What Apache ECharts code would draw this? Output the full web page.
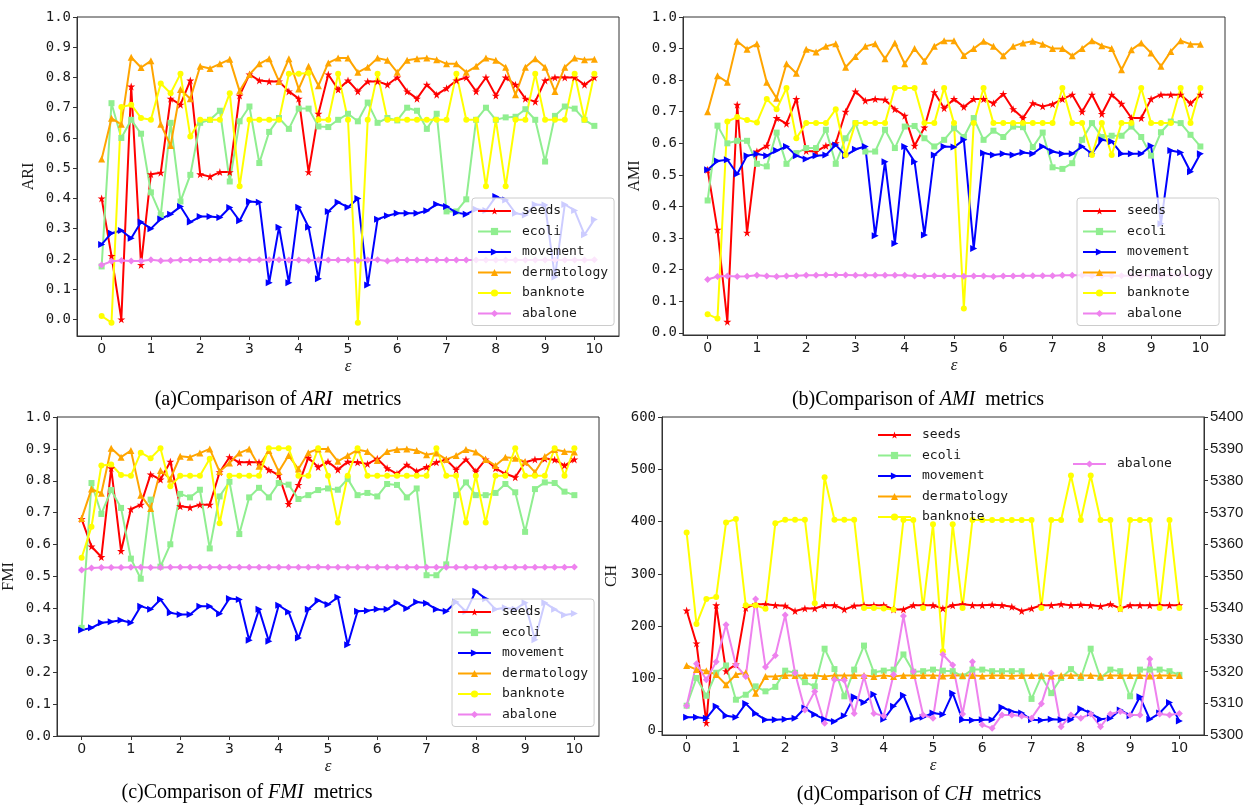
<!DOCTYPE html>
<html>
<head>
<meta charset="utf-8">
<script src="https://cdn.jsdelivr.net/npm/echarts@6/dist/echarts.min.js"></script>
<style>
html, body { margin: 0; padding: 0; background: #fff; }
#chart { width: 1245px; height: 806px; }
</style>
</head>
<body>
<div id="chart"></div>
<script>
// x values (epsilon) shared by every panel
const epsilon = [0, 0.2, 0.4, 0.6, 0.8, 1, 1.2, 1.4, 1.6, 1.8,
  2, 2.2, 2.4, 2.6, 2.8, 3, 3.2, 3.4, 3.6, 3.8,
  4, 4.2, 4.4, 4.6, 4.8, 5, 5.2, 5.4, 5.6, 5.8,
  6, 6.2, 6.4, 6.6, 6.8, 7, 7.2, 7.4, 7.6, 7.8,
  8, 8.2, 8.4, 8.6, 8.8, 9, 9.2, 9.4, 9.6, 9.8, 10];

const datasetNames = ['seeds', 'ecoli', 'movement', 'dermatology', 'banknote', 'abalone'];

// tick labels
const xTicks = [0, 1, 2, 3, 4, 5, 6, 7, 8, 9, 10];
const unitTicks = [0, 0.1, 0.2, 0.3, 0.4, 0.5, 0.6, 0.7, 0.8, 0.9, 1.0];
const chTicks = [0, 100, 200, 300, 400, 500, 600];

// (a) ARI
const ariSeeds = [0.40, 0.21, 0.00, 0.77, 0.18, 0.48, 0.485, 0.73, 0.71, 0.79,
  0.48, 0.472, 0.487, 0.487, 0.74, 0.81, 0.79, 0.787, 0.787, 0.754,
  0.73, 0.487, 0.68, 0.81, 0.76, 0.79, 0.754, 0.787, 0.787, 0.776,
  0.80, 0.754, 0.73, 0.776, 0.743, 0.764, 0.79, 0.80, 0.754, 0.80,
  0.74, 0.80, 0.776, 0.73, 0.72, 0.79, 0.80, 0.80, 0.80, 0.776, 0.80];
const ariEcoli = [0.175, 0.715, 0.60, 0.66, 0.614, 0.42, 0.345, 0.65, 0.39, 0.478,
  0.65, 0.66, 0.69, 0.456, 0.655, 0.704, 0.517, 0.62, 0.666, 0.63,
  0.697, 0.697, 0.638, 0.636, 0.66, 0.68, 0.655, 0.717, 0.65, 0.666,
  0.658, 0.70, 0.69, 0.63, 0.68, 0.357, 0.357, 0.397, 0.66, 0.70,
  0.66, 0.668, 0.67, 0.695, 0.66, 0.522, 0.673, 0.704, 0.697, 0.66, 0.64];
const ariMovement = [0.248, 0.285, 0.294, 0.268, 0.322, 0.30, 0.332, 0.348, 0.373, 0.322,
  0.34, 0.34, 0.337, 0.37, 0.326, 0.39, 0.387, 0.121, 0.305, 0.121,
  0.371, 0.305, 0.134, 0.357, 0.387, 0.371, 0.40, 0.114, 0.331, 0.343,
  0.351, 0.351, 0.351, 0.359, 0.381, 0.373, 0.353, 0.348, 0.364, 0.36,
  0.406, 0.395, 0.351, 0.345, 0.38, 0.378, 0.14, 0.38, 0.36, 0.28, 0.33];
const ariDermatology = [0.53, 0.665, 0.645, 0.867, 0.833, 0.855, 0.645, 0.575, 0.76, 0.73,
  0.837, 0.83, 0.845, 0.86, 0.755, 0.81, 0.845, 0.862, 0.787, 0.862,
  0.762, 0.837, 0.773, 0.848, 0.864, 0.864, 0.817, 0.834, 0.864, 0.857,
  0.817, 0.857, 0.862, 0.864, 0.859, 0.845, 0.845, 0.817, 0.837, 0.864,
  0.857, 0.834, 0.743, 0.834, 0.862, 0.834, 0.754, 0.834, 0.864, 0.859, 0.86];
const ariBanknote = [0.011, -0.011, 0.702, 0.71, 0.666, 0.66, 0.78, 0.748, 0.812, 0.605,
  0.66, 0.66, 0.66, 0.748, 0.44, 0.66, 0.66, 0.66, 0.66, 0.812,
  0.812, 0.815, 0.66, 0.66, 0.812, 0.66, -0.011, 0.66, 0.812, 0.66,
  0.66, 0.66, 0.66, 0.66, 0.66, 0.66, 0.812, 0.66, 0.66, 0.44,
  0.66, 0.44, 0.66, 0.66, 0.812, 0.66, 0.66, 0.66, 0.812, 0.66, 0.812];
const ariAbalone = [0.18, 0.192, 0.195, 0.193, 0.193, 0.197, 0.194, 0.195, 0.196, 0.196,
  0.196, 0.196, 0.197, 0.197, 0.197, 0.196, 0.197, 0.197, 0.197, 0.196,
  0.196, 0.195, 0.197, 0.196, 0.196, 0.196, 0.195, 0.196, 0.197, 0.193,
  0.196, 0.196, 0.196, 0.196, 0.196, 0.196, 0.196, 0.196, 0.196, 0.196,
  0.196, 0.196, 0.196, 0.196, 0.196, 0.196, 0.196, 0.196, 0.196, 0.196, 0.197];

// (b) AMI
const amiSeeds = [0.516, 0.326, 0.035, 0.722, 0.317, 0.574, 0.592, 0.68, 0.662, 0.74,
  0.576, 0.574, 0.592, 0.60, 0.70, 0.764, 0.735, 0.74, 0.738, 0.708,
  0.687, 0.592, 0.65, 0.762, 0.711, 0.74, 0.715, 0.74, 0.74, 0.727,
  0.756, 0.708, 0.68, 0.727, 0.717, 0.724, 0.74, 0.754, 0.70, 0.754,
  0.693, 0.754, 0.725, 0.68, 0.68, 0.74, 0.754, 0.754, 0.754, 0.727, 0.754];
const amiEcoli = [0.419, 0.656, 0.60, 0.608, 0.608, 0.535, 0.527, 0.634, 0.535, 0.569,
  0.585, 0.585, 0.643, 0.535, 0.616, 0.664, 0.574, 0.574, 0.643, 0.585,
  0.653, 0.655, 0.616, 0.59, 0.611, 0.648, 0.62, 0.68, 0.611, 0.64,
  0.62, 0.653, 0.651, 0.588, 0.634, 0.524, 0.519, 0.537, 0.611, 0.664,
  0.62, 0.624, 0.624, 0.653, 0.62, 0.561, 0.635, 0.669, 0.664, 0.627, 0.59];
const amiMovement = [0.516, 0.544, 0.548, 0.503, 0.561, 0.566, 0.561, 0.577, 0.59, 0.561,
  0.55, 0.561, 0.563, 0.595, 0.561, 0.581, 0.59, 0.307, 0.542, 0.283,
  0.59, 0.542, 0.31, 0.563, 0.59, 0.588, 0.611, 0.267, 0.569, 0.563,
  0.567, 0.563, 0.571, 0.567, 0.59, 0.574, 0.567, 0.567, 0.59, 0.567,
  0.611, 0.606, 0.567, 0.567, 0.567, 0.592, 0.345, 0.577, 0.571, 0.51, 0.567];
const amiDermatology = [0.70, 0.814, 0.793, 0.923, 0.898, 0.915, 0.793, 0.743, 0.852, 0.822,
  0.898, 0.889, 0.907, 0.915, 0.841, 0.875, 0.907, 0.915, 0.868, 0.918,
  0.852, 0.90, 0.86, 0.907, 0.925, 0.925, 0.878, 0.90, 0.923, 0.907,
  0.877, 0.907, 0.918, 0.923, 0.914, 0.90, 0.90, 0.877, 0.90, 0.925,
  0.909, 0.90, 0.833, 0.896, 0.918, 0.886, 0.844, 0.891, 0.925, 0.914, 0.914];
const amiBanknote = [0.059, 0.045, 0.669, 0.683, 0.674, 0.666, 0.74, 0.708, 0.775, 0.616,
  0.664, 0.664, 0.664, 0.708, 0.563, 0.664, 0.664, 0.664, 0.664, 0.775,
  0.775, 0.775, 0.664, 0.664, 0.775, 0.664, 0.077, 0.664, 0.775, 0.664,
  0.664, 0.664, 0.664, 0.664, 0.664, 0.664, 0.775, 0.664, 0.664, 0.563,
  0.664, 0.563, 0.664, 0.664, 0.775, 0.664, 0.664, 0.664, 0.775, 0.664, 0.775];
const amiAbalone = [0.169, 0.178, 0.18, 0.178, 0.179, 0.182, 0.18, 0.178, 0.18, 0.181,
  0.182, 0.182, 0.183, 0.183, 0.183, 0.182, 0.182, 0.182, 0.182, 0.182,
  0.182, 0.18, 0.18, 0.181, 0.18, 0.18, 0.179, 0.18, 0.18, 0.178,
  0.18, 0.18, 0.181, 0.181, 0.181, 0.181, 0.182, 0.182, 0.182, 0.181,
  0.181, 0.181, 0.181, 0.181, 0.181, 0.181, 0.181, 0.182, 0.182, 0.182, 0.182];

// (c) FMI
const fmiSeeds = [0.68, 0.594, 0.561, 0.839, 0.58, 0.711, 0.725, 0.82, 0.804, 0.86,
  0.72, 0.716, 0.725, 0.725, 0.827, 0.874, 0.858, 0.858, 0.858, 0.834,
  0.818, 0.727, 0.787, 0.872, 0.843, 0.86, 0.835, 0.86, 0.858, 0.853,
  0.869, 0.839, 0.822, 0.85, 0.83, 0.843, 0.858, 0.866, 0.835, 0.867,
  0.829, 0.867, 0.839, 0.822, 0.811, 0.858, 0.867, 0.869, 0.866, 0.848, 0.867];
const fmiEcoli = [0.339, 0.793, 0.696, 0.771, 0.715, 0.556, 0.493, 0.741, 0.531, 0.601,
  0.759, 0.748, 0.772, 0.588, 0.751, 0.797, 0.633, 0.748, 0.778, 0.748,
  0.793, 0.788, 0.743, 0.755, 0.771, 0.776, 0.772, 0.806, 0.755, 0.762,
  0.751, 0.79, 0.787, 0.748, 0.776, 0.504, 0.504, 0.538, 0.755, 0.795,
  0.755, 0.755, 0.762, 0.79, 0.764, 0.64, 0.774, 0.795, 0.793, 0.766, 0.755];
const fmiMovement = [0.332, 0.339, 0.355, 0.358, 0.363, 0.355, 0.407, 0.397, 0.428, 0.386,
  0.381, 0.381, 0.407, 0.407, 0.383, 0.431, 0.428, 0.30, 0.397, 0.297,
  0.41, 0.389, 0.307, 0.397, 0.425, 0.412, 0.435, 0.286, 0.391, 0.393,
  0.397, 0.397, 0.418, 0.40, 0.42, 0.416, 0.397, 0.391, 0.42, 0.39,
  0.454, 0.43, 0.397, 0.402, 0.397, 0.418, 0.302, 0.418, 0.397, 0.379, 0.384];
const fmiDermatology = [0.682, 0.774, 0.761, 0.902, 0.874, 0.895, 0.755, 0.713, 0.832, 0.806,
  0.877, 0.874, 0.887, 0.90, 0.829, 0.856, 0.887, 0.90, 0.846, 0.895,
  0.829, 0.879, 0.837, 0.888, 0.90, 0.90, 0.861, 0.879, 0.897, 0.892,
  0.864, 0.892, 0.898, 0.90, 0.895, 0.882, 0.887, 0.867, 0.879, 0.898,
  0.89, 0.867, 0.848, 0.874, 0.871, 0.86, 0.827, 0.876, 0.898, 0.892, 0.89];
const fmiBanknote = [0.559, 0.656, 0.848, 0.851, 0.818, 0.816, 0.888, 0.871, 0.902, 0.783,
  0.816, 0.816, 0.816, 0.869, 0.667, 0.816, 0.816, 0.816, 0.816, 0.902,
  0.902, 0.902, 0.816, 0.816, 0.902, 0.816, 0.669, 0.816, 0.902, 0.816,
  0.816, 0.816, 0.816, 0.816, 0.816, 0.816, 0.902, 0.816, 0.816, 0.669,
  0.816, 0.669, 0.816, 0.816, 0.902, 0.816, 0.816, 0.816, 0.902, 0.816, 0.902];
const fmiAbalone = [0.52, 0.527, 0.528, 0.528, 0.528, 0.529, 0.529, 0.528, 0.528, 0.529,
  0.529, 0.529, 0.529, 0.529, 0.529, 0.529, 0.529, 0.529, 0.529, 0.529,
  0.529, 0.529, 0.529, 0.529, 0.53, 0.529, 0.529, 0.529, 0.529, 0.529,
  0.529, 0.529, 0.529, 0.529, 0.529, 0.529, 0.529, 0.529, 0.529, 0.529,
  0.529, 0.529, 0.529, 0.529, 0.529, 0.529, 0.529, 0.529, 0.529, 0.529, 0.53];

// (d) CH (abalone is read on the right axis)
const chSeeds = [230, 167, 15, 240, 114, 127, 235, 242, 242, 240,
  239, 229, 234, 234, 240, 240, 232, 239, 240, 240,
  240, 232, 232, 240, 240, 240, 234, 240, 242, 240,
  240, 241, 240, 237, 229, 234, 240, 240, 242, 240,
  241, 240, 238, 242, 234, 240, 240, 240, 240, 240, 240];
const chEcoli = [48, 101, 67, 111, 125, 59.5, 69, 85, 75.5, 84,
  115, 111, 93, 85, 157, 118, 66, 117, 163, 112,
  115, 117, 146, 113, 114, 117, 115, 114, 104, 117,
  117, 114, 114, 114, 114, 61, 104, 72, 101, 118,
  101, 157, 101, 117, 114, 66, 117, 117, 117, 114, 107];
const chMovement = [26, 26, 24, 47, 29, 26, 52, 33, 21, 21,
  22, 24, 43.5, 31, 22, 18, 29, 65, 54, 70,
  22, 47, 68, 22, 26, 34, 31, 72, 21, 20,
  21, 21, 45, 37, 34, 21, 20, 22, 21, 21,
  42, 34, 22, 24, 40, 29, 65, 22, 34, 54, 19];
const chDermatology = [125, 117, 115, 107.5, 88, 107.5, 111, 72, 104, 104,
  106, 106, 106, 106, 104, 106, 106, 106, 106, 104,
  106, 104, 106, 106, 106, 106, 105, 106, 106, 106,
  105, 106, 106, 105, 106, 106, 106, 105, 106, 106,
  106, 106, 105, 106, 106, 106, 106, 105, 106, 106, 106];
const chBanknote = [379, 204, 252, 256, 398.5, 405, 240, 240, 233.5, 397,
  403.6, 403.6, 403.6, 243.7, 485, 403.6, 403.6, 403.6, 235, 235,
  234, 232, 403, 403, 235, 395, 152, 395, 235, 403,
  403, 403, 403, 403, 403, 403, 235, 403, 403, 488,
  403, 488, 403, 403, 233, 403, 403, 403, 235, 403, 235];
const chAbalone = [5309.2, 5322.4, 5317.4, 5323, 5334.7, 5322, 5318.4, 5342.8, 5321.4, 5325,
  5337.7, 5319.5, 5307.9, 5313.7, 5303.7, 5317.4, 5317.2, 5306.8, 5318.4, 5306.8,
  5306, 5319, 5337.4, 5320, 5306.3, 5305.3, 5325.3, 5322, 5306.6, 5323,
  5303.2, 5302.1, 5306.3, 5306.3, 5306, 5305.3, 5309.8, 5319.5, 5302.6, 5306.3,
  5305.3, 5306.6, 5302.6, 5306.6, 5307.4, 5306.3, 5306.3, 5323.9, 5306.6, 5306.3, 5306.8];

const panels = [
  [ariSeeds, ariEcoli, ariMovement, ariDermatology, ariBanknote, ariAbalone],
  [amiSeeds, amiEcoli, amiMovement, amiDermatology, amiBanknote, amiAbalone],
  [fmiSeeds, fmiEcoli, fmiMovement, fmiDermatology, fmiBanknote, fmiAbalone],
  [chSeeds, chEcoli, chMovement, chDermatology, chBanknote, chAbalone]
];
const metricNames = ['ARI', 'AMI', 'FMI', 'CH'];
const captionTags = ['(a)', '(b)', '(c)', '(d)'];

// styles
const lineColors = ['#ff0000', '#90ee90', '#0000ff', '#ffa500', '#ffff00', '#ee82ee'];
const STAR = 'path://M50,2 L61,37 L98,37 L68,59 L79,95 L50,73 L21,95 L32,59 L2,37 L39,37 Z';
const markers = [
  { symbol: STAR, size: 8, rotate: 0 },
  { symbol: 'rect', size: 6, rotate: 0 },
  { symbol: 'triangle', size: 7, rotate: -90 },
  { symbol: 'triangle', size: 7, rotate: 0 },
  { symbol: 'circle', size: 6, rotate: 0 },
  { symbol: 'diamond', size: 7, rotate: 0 }
];

const gridBoxes = [
  { left: 77, top: 17, width: 542, height: 319 },
  { left: 683, top: 17, width: 542, height: 318 },
  { left: 57, top: 417, width: 542, height: 319 },
  { left: 662, top: 417, width: 542, height: 318 }
];
const yRanges = [[-0.055, 1.0], [-0.007, 1.0], [0, 1.0], [-8, 600]];
const captionPos = [[278, 400], [918, 400], [247, 793], [919, 795]];

const axisColor = '#333';
const textColor = '#1a1a1a';

function makeXAxis(g) {
  return {
    type: 'value', gridIndex: g, min: -0.5, max: 10.5,
    name: 'ε', nameLocation: 'middle', nameGap: 22,
    nameTextStyle: { fontFamily: 'Liberation Serif', fontStyle: 'italic', fontSize: 17, color: textColor },
    axisLine: { onZero: false, lineStyle: { color: axisColor, width: 1 } },
    axisTick: { show: true, length: 4, customValues: xTicks, lineStyle: { color: axisColor } },
    axisLabel: { customValues: xTicks, fontFamily: 'DejaVu Sans', fontSize: 14, color: textColor, margin: 6 },
    splitLine: { show: false }
  };
}

function makeYAxis(g) {
  const ticks = g === 3 ? chTicks : unitTicks;
  return {
    type: 'value', gridIndex: g, min: yRanges[g][0], max: yRanges[g][1],
    name: metricNames[g], nameLocation: 'middle', nameGap: g === 3 ? 42 : 40,
    nameTextStyle: { fontFamily: 'Liberation Serif', fontSize: 16, color: textColor },
    axisLine: { show: true, onZero: false, lineStyle: { color: axisColor, width: 1 } },
    axisTick: { show: true, length: 4, customValues: ticks, lineStyle: { color: axisColor } },
    axisLabel: {
      customValues: ticks, fontFamily: 'DejaVu Sans Mono', fontSize: 14, color: textColor, margin: 6,
      formatter: v => g === 3 ? String(v) : v.toFixed(1)
    },
    splitLine: { show: false }
  };
}

const xAxes = [0, 1, 2, 3].map(makeXAxis);
const yAxes = [0, 1, 2, 3].map(makeYAxis);
// right axis of (d) for abalone
yAxes.push({
  type: 'value', gridIndex: 3, position: 'right', min: 5300, max: 5400, interval: 10,
  axisLine: { show: true, onZero: false, lineStyle: { color: axisColor, width: 1 } },
  axisTick: { show: true, length: 4, lineStyle: { color: axisColor } },
  axisLabel: { fontFamily: 'Liberation Sans', fontSize: 15, color: textColor, margin: 6, formatter: v => String(v) },
  splitLine: { show: false }
});

function makeSeries(values, k, g, yIdx) {
  return {
    name: datasetNames[k], type: 'line', xAxisIndex: g, yAxisIndex: yIdx,
    data: values.map((v, i) => [epsilon[i], v]),
    symbol: markers[k].symbol, symbolSize: markers[k].size, symbolRotate: markers[k].rotate,
    showAllSymbol: true,
    lineStyle: { color: lineColors[k], width: 2 },
    itemStyle: { color: lineColors[k], borderWidth: 0 },
    emphasis: { disabled: true },
    animation: false
  };
}

const series = [];
panels.forEach((set, g) => {
  set.forEach((values, k) => {
    const yIdx = (g === 3 && k === 5) ? 4 : g;
    series.push(makeSeries(values, k, g, yIdx));
  });
});

function makeLegend(names, left, top, framed) {
  return {
    orient: 'vertical', left: left, top: top, data: names,
    itemWidth: 33, itemHeight: 9, itemGap: 6.5,
    padding: framed ? [6, 6, 5, 5] : 0,
    backgroundColor: framed ? 'rgba(255,255,255,0.8)' : 'transparent',
    borderColor: framed ? '#cccccc' : 'transparent',
    borderWidth: framed ? 1 : 0, borderRadius: 3,
    selectedMode: false,
    textStyle: { fontFamily: 'DejaVu Sans Mono', fontSize: 13, lineHeight: 14, color: textColor, padding: [0, 0, 0, 6] }
  };
}

const legends = [
  makeLegend(datasetNames, 472, 198, true),
  makeLegend(datasetNames, 1077, 198, true),
  makeLegend(datasetNames, 452, 599, true),
  makeLegend(datasetNames.slice(0, 5), 877, 428, false),
  makeLegend(['abalone'], 1072, 457, false)
];

const captions = metricNames.map((m, g) => ({
  type: 'text', x: captionPos[g][0], y: captionPos[g][1],
  style: {
    text: '{n|' + captionTags[g] + 'Comparison of }{i|' + m + '}{n|  metrics}',
    align: 'center', verticalAlign: 'middle',
    rich: {
      n: { fontFamily: 'Liberation Serif', fontSize: 20, fill: '#000' },
      i: { fontFamily: 'Liberation Serif', fontStyle: 'italic', fontSize: 20, fill: '#000' }
    }
  }
}));

const chart = echarts.init(document.getElementById('chart'));
chart.setOption({
  animation: false,
  backgroundColor: '#fff',
  grid: gridBoxes.map(b => Object.assign({
    show: true, borderColor: axisColor, borderWidth: 1, backgroundColor: 'transparent',
    containLabel: false, outerBoundsMode: 'none'
  }, b)),
  xAxis: xAxes,
  yAxis: yAxes,
  legend: legends,
  graphic: captions,
  series: series
});
</script>
</body>
</html>
